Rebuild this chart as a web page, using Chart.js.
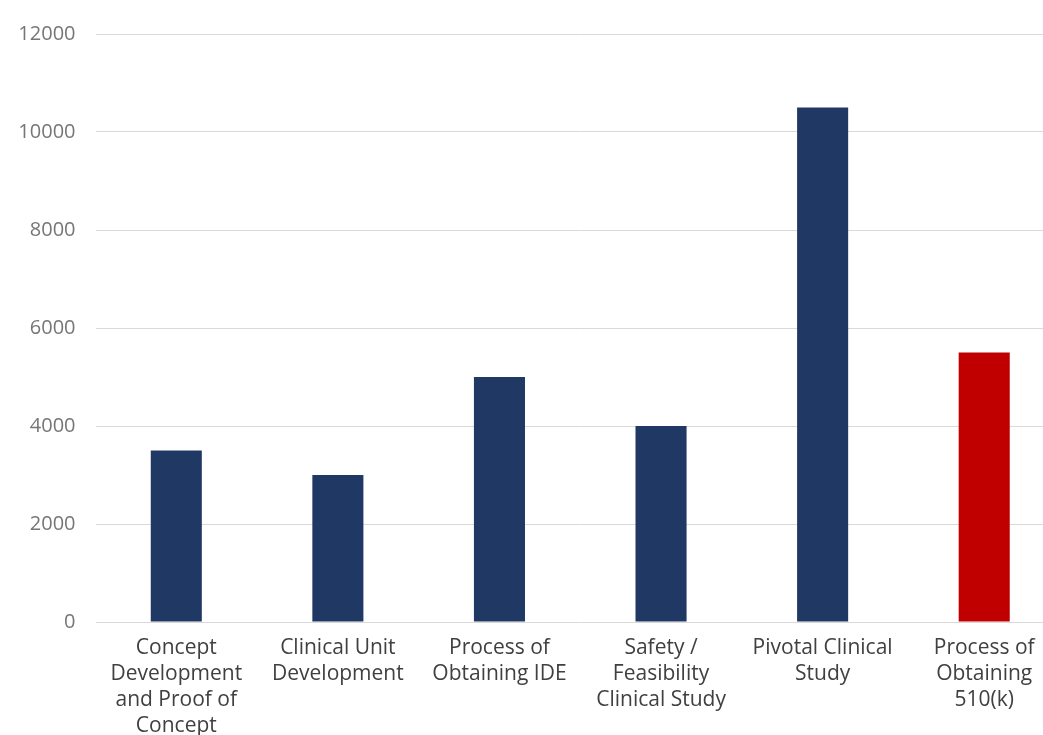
<!DOCTYPE html>
<html>
<head>
<meta charset="utf-8">
<script src="https://cdn.jsdelivr.net/npm/chart.js@4.4.1/dist/chart.umd.min.js"></script>
<style>
  html, body { margin: 0; padding: 0; background: #ffffff; overflow: hidden; }
  #wrap { width: 1070px; height: 735px; position: relative; }
</style>
</head>
<body>
<div id="wrap"><canvas id="c"></canvas></div>
<script>
const categories = [
  ["Concept", "Development", "and Proof of", "Concept"],
  ["Clinical Unit", "Development"],
  ["Process of", "Obtaining IDE"],
  ["Safety /", "Feasibility", "Clinical Study"],
  ["Pivotal Clinical", "Study"],
  ["Process of", "Obtaining", "510(k)"]
];
const values = [3500, 3000, 5000, 4000, 10500, 5500];
const barColors = ["#203864", "#203864", "#203864", "#203864", "#203864", "#C00000"];
const yTicks = [0, 2000, 4000, 6000, 8000, 10000, 12000];

const FONT = "'Open Sans', 'Noto Sans', sans-serif";

new Chart(document.getElementById('c'), {
  type: 'bar',
  data: {
    labels: categories,
    datasets: [{
      data: values,
      backgroundColor: barColors,
      borderWidth: 0,
      barPercentage: 0.316,
      categoryPercentage: 1.0
    }]
  },
  options: {
    responsive: true,
    maintainAspectRatio: false,
    animation: false,
    layout: { padding: { top: 34, right: 5, bottom: 0, left: 0 } },
    plugins: { legend: { display: false }, tooltip: { enabled: false } },
    scales: {
      x: {
        grid: { display: false, drawTicks: false },
        border: { display: false },
        ticks: {
          color: '#404040',
          font: { family: FONT, size: 21, lineHeight: '26px' },
          padding: 13,
          maxRotation: 0,
          autoSkip: false
        },
        afterFit: (s) => { s.height = 113; }
      },
      y: {
        min: 0,
        max: 12000,
        afterBuildTicks: (s) => { s.ticks = yTicks.map(v => ({ value: v })); },
        grid: { color: '#d9d9d9', lineWidth: 1, drawTicks: false },
        border: { display: false },
        ticks: {
          color: '#767676',
          font: { family: FONT, size: 20 },
          padding: 20,
          callback: (v) => String(v)
        },
        afterFit: (s) => { s.width = 95.5; }
      }
    }
  }
});
</script>
</body>
</html>
